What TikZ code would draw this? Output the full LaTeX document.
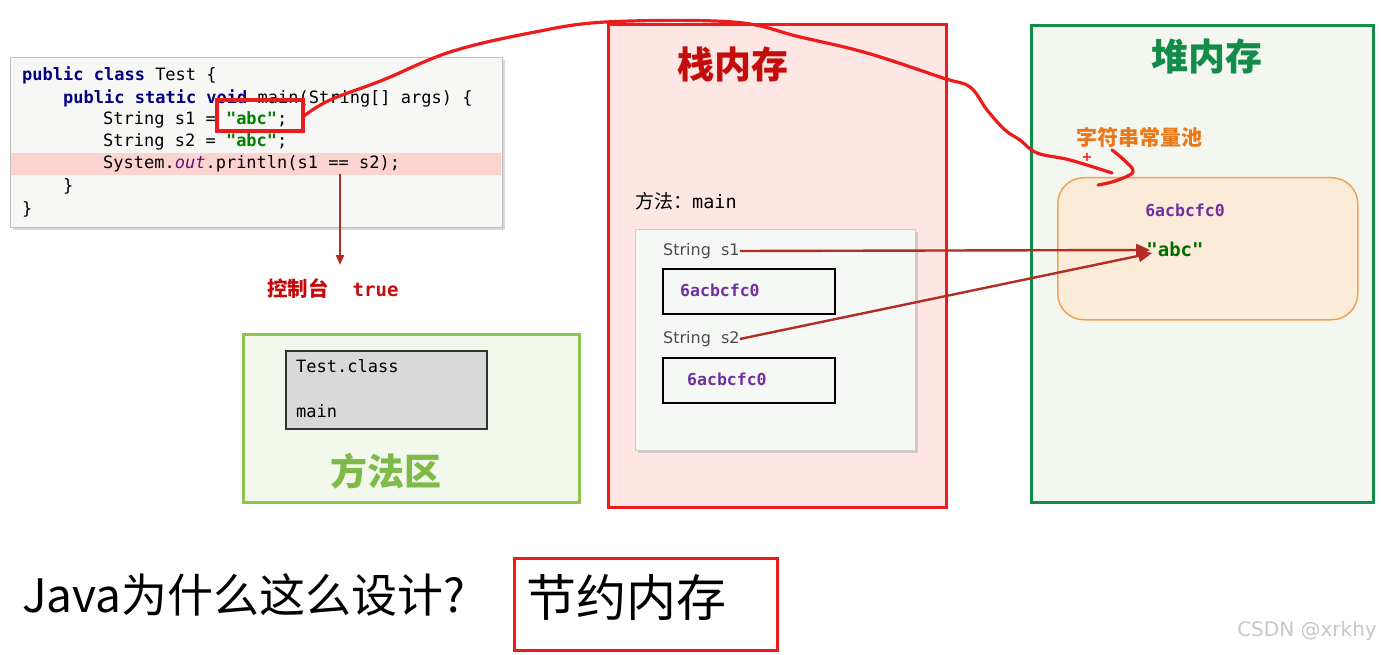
\documentclass[tikz,border=0pt]{standalone}
\usepackage{fontspec}
\setmainfont{DejaVu Sans}
\setsansfont{DejaVu Sans}
\setmonofont{DejaVu Sans Mono}
\newfontfamily\cjk{Noto Sans CJK SC}
\usetikzlibrary{calc,positioning,shadows,arrows.meta}

\definecolor{stackred}{RGB}{236,28,28}
\definecolor{stackfill}{RGB}{253,230,228}
\definecolor{stacktitle}{RGB}{196,12,12}
\definecolor{heapgreen}{RGB}{18,140,72}
\definecolor{heapfill}{RGB}{244,247,240}
\definecolor{poolfill}{RGB}{253,235,217}
\definecolor{poolline}{RGB}{240,162,84}
\definecolor{poolorange}{RGB}{234,120,22}
\definecolor{methgreen}{RGB}{140,196,76}
\definecolor{methfill}{RGB}{243,248,237}
\definecolor{methtitle}{RGB}{126,186,72}
\definecolor{addrpurple}{RGB}{112,48,160}
\definecolor{refred}{RGB}{178,46,36}
\definecolor{codebg}{RGB}{247,248,246}
\definecolor{codehl}{RGB}{251,212,208}
\definecolor{kwblue}{RGB}{0,0,128}
\definecolor{strgreen}{RGB}{0,128,0}
\definecolor{outpurple}{RGB}{102,14,122}
\definecolor{framefill}{RGB}{246,248,246}
\definecolor{classgray}{RGB}{217,217,217}

\newcommand{\kw}[1]{\textcolor{kwblue}{\textbf{#1}}}
\newcommand{\str}[1]{\textcolor{strgreen}{\textbf{#1}}}

\tikzset{
  codeline/.style={anchor=west, inner sep=0pt, font=\fontsize{17}{20}\selectfont\ttfamily},
  area/.style={anchor=north west, inner sep=0pt, line width=3.4pt},
  title/.style={font=\cjk\bfseries\fontsize{37}{40}\selectfont},
  varlbl/.style={anchor=west, inner sep=0pt, text=black!70, font=\fontsize{16}{18}\selectfont},
  addrbox/.style={draw, line width=2.2pt, minimum width=172pt, minimum height=45pt, anchor=north west},
  addr/.style={anchor=west, inner sep=0pt, text=addrpurple, font=\fontsize{16.5}{18}\selectfont\ttfamily\bfseries},
  refarrow/.style={draw=refred, line width=2.4pt, -{Triangle[length=14pt,width=12pt]}},
  hand/.style={draw=stackred, line width=3.2pt, line cap=round, line join=round}
}

\begin{document}
\begin{tikzpicture}[x=1pt, y=-1pt]
  \useasboundingbox[fill=white] (0,0) rectangle (1381,655);

  % code window
  \node[anchor=north west, minimum width=492pt, minimum height=170pt, inner sep=0pt,
        fill=codebg, draw=black!25, line width=1.2pt,
        drop shadow={shadow xshift=2pt, shadow yshift=-2pt, opacity=0.3}] (code) at (10,57) {};
  \node[anchor=north west, minimum width=490pt, minimum height=22pt, inner sep=0pt, fill=codehl] (hl) at (11,153) {};
  \node[codeline] (c1) at (22,75)  {\kw{public class} Test \{};
  \node[codeline] (c2) at (63,98)  {\kw{public static void} main(String[] args) \{};
  \node[codeline] (c3) at (103,120) {String s1 = \str{"abc"};};
  \node[codeline] (c4) at (103,142) {String s2 = \str{"abc"};};
  \node[codeline] (c5) at (103,164) {System.\textcolor{outpurple}{\textit{out}}.println(s1 == s2);};
  \node[codeline] (c6) at (63,186) {\}};
  \node[codeline] (c7) at (22,209) {\}};
  \node[draw=stackred, line width=3.2pt, minimum width=86pt, minimum height=31pt, inner sep=0pt] (abcmark) at (260,115.5) {};

  % console
  \coordinate (eq) at (340,174);
  \coordinate (conin) at (340,265);
  \draw[draw=refred, line width=2pt, -{Triangle[length=10pt,width=8pt]}] (eq) -- (conin);
  \node[anchor=west, inner sep=0pt, text=stacktitle] (console) at (267,288)
    {{\cjk\bfseries\fontsize{20.5}{22}\selectfont 控制台}\hspace{24pt}{\ttfamily\bfseries\fontsize{19}{20}\selectfont true}};

  % method area
  \node[area, draw=methgreen, fill=methfill, minimum width=336pt, minimum height=168pt] (method) at (242,333) {};
  \node[anchor=north west, draw=black!80, line width=1.5pt, fill=classgray, minimum width=201pt, minimum height=78pt, inner sep=0pt] (cls) at (285,350) {};
  \node[codeline] (clsname) at (296,366) {Test.class};
  \node[codeline] (clsmain) at (296,411) {main};
  \node[title, text=methtitle] (methname) at (386,471) {方法区};

  % stack
  \node[area, draw=stackred, fill=stackfill, minimum width=338pt, minimum height=483pt] (stack) at (607,23) {};
  \node[title, text=stacktitle] (stackname) at (733,64) {栈内存};
  \node[anchor=west, inner sep=0pt] (frame) at (635,201)
    {{\cjk\fontsize{19}{20}\selectfont 方法：}{\ttfamily\fontsize{18.5}{20}\selectfont main}};
  \node[anchor=north west, minimum width=280pt, minimum height=221pt, inner sep=0pt,
        fill=framefill, draw=black!20, line width=1pt,
        drop shadow={shadow xshift=2pt, shadow yshift=-2pt, opacity=0.3}] (frmbox) at (635,229) {};
  \node[varlbl] (s1) at (663,251) {String\ \ s1};
  \node[addrbox] (s1box) at (662,268) {};
  \node[addr] (s1addr) at (680,290) {6acbcfc0};
  \node[varlbl] (s2) at (663,339) {String\ \ s2};
  \node[addrbox] (s2box) at (662,357) {};
  \node[addr] (s2addr) at (687,379) {6acbcfc0};

  % heap
  \node[area, draw=heapgreen, fill=heapfill, minimum width=342pt, minimum height=477pt] (heap) at (1030,24) {};
  \node[title, text=heapgreen] (heapname) at (1207,56) {堆内存};
  \node[text=poolorange, font=\cjk\bfseries\fontsize{21}{22}\selectfont] (poolname) at (1139,137) {字符串常量池};
  \node[anchor=north west, draw=poolline, fill=poolfill, line width=1.5pt, rounded corners=26pt,
        minimum width=300pt, minimum height=142pt, inner sep=0pt] (pool) at (1057,177) {};
  \node[addr, anchor=center] (pooladdr) at (1185,210) {6acbcfc0};
  \node[anchor=center, inner sep=0pt, text=strgreen!85!black, font=\fontsize{19}{20}\selectfont\ttfamily\bfseries] (abc) at (1175,249) {"abc"};

  % references
  \draw[refarrow] (s1.east) -- ($(abc.west)+(4,1)$);
  \draw[refarrow] (s2.east) -- ($(abc.west)+(6,4)$);

  % hand drawn mark
  \draw[hand] plot[smooth, tension=0.6] coordinates {(abcmark.east) (330,100) (383,80) (450,52) (530,33) (606,22)
    (733,22) (800,37) (867,53) (943,78) (970,87) (987,110) (1005,130) (1020,140) (1037,153) (1070,160) (1112,173)};
  \draw[hand] plot[smooth, tension=0.6] coordinates {(1112,150) (1124,160) (1133,172) (1115,181) (1098,185)};
  \node[text=stackred, font=\bfseries\fontsize{13}{13}\selectfont, inner sep=0pt] (plus) at (1087,157) {+};

  % bottom line
  \node[anchor=west, inner sep=0pt, font=\cjk\fontsize{46}{48}\selectfont] (why) at (22,595) {Java为什么这么设计?};
  \node[anchor=north west, draw=stackred, line width=2.8pt, minimum width=263pt, minimum height=92pt, inner sep=0pt] (ansbox) at (513,557) {};
  \node[anchor=west, inner sep=0pt, font=\cjk\fontsize{50}{52}\selectfont] (ans) at (526,598) {节约内存};

  \node[anchor=east, inner sep=0pt, text=black!22, font=\fontsize{20}{22}\selectfont] (mark) at (1377,631) {CSDN @xrkhy};
\end{tikzpicture}
\end{document}
